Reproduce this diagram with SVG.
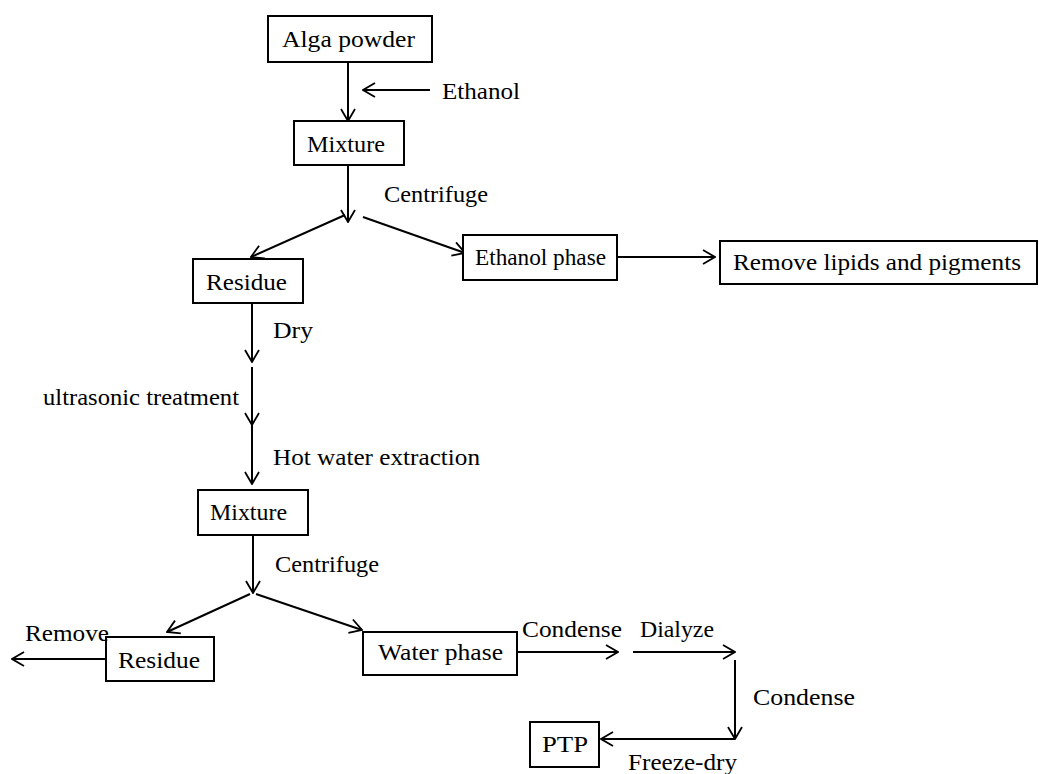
<svg xmlns="http://www.w3.org/2000/svg" width="1039" height="774" viewBox="0 0 1039 774">
<defs>
<style>
.box{fill:#fff;stroke:#000;stroke-width:2}
.t{font-family:"Liberation Serif","Times New Roman",serif;font-size:23px;fill:#000}
.c line{stroke:#000;stroke-width:2;fill:none}
.ah{fill:none;stroke:#000;stroke-width:1.8}
</style>
<marker id="a" viewBox="0 0 14 16" refX="13" refY="8" markerWidth="14" markerHeight="16" markerUnits="userSpaceOnUse" orient="auto">
<path class="ah" d="M1,1 L13,8 L1,15"/>
</marker>
</defs>
<rect width="1039" height="774" fill="#fff"/>
<g id="connectors" class="c">
<line x1="348" y1="62" x2="348" y2="121" marker-end="url(#a)"/>
<line x1="430" y1="90" x2="363" y2="90" marker-end="url(#a)"/>
<line x1="348" y1="165" x2="348" y2="222" marker-end="url(#a)"/>
<line x1="345" y1="215" x2="251" y2="257" marker-end="url(#a)"/>
<line x1="363" y1="217" x2="465" y2="253" marker-end="url(#a)"/>
<line x1="617" y1="257" x2="715" y2="257" marker-end="url(#a)"/>
<line x1="252" y1="303" x2="252" y2="362" marker-end="url(#a)"/>
<line x1="252" y1="367" x2="252" y2="425" marker-end="url(#a)"/>
<line x1="252" y1="425" x2="252" y2="484" marker-end="url(#a)"/>
<line x1="253" y1="535" x2="253" y2="593" marker-end="url(#a)"/>
<line x1="250" y1="594" x2="167" y2="632" marker-end="url(#a)"/>
<line x1="256" y1="594" x2="362" y2="630" marker-end="url(#a)"/>
<line x1="106" y1="659" x2="12" y2="659" marker-end="url(#a)"/>
<line x1="517" y1="652" x2="618" y2="652" marker-end="url(#a)"/>
<line x1="633" y1="652" x2="735" y2="652" marker-end="url(#a)"/>
<line x1="735" y1="660" x2="735" y2="739" marker-end="url(#a)"/>
<line x1="735" y1="739" x2="601" y2="739" marker-end="url(#a)"/>
</g>
<g id="alga"><rect class="box" x="268" y="16" width="164" height="46"/><text class="t" x="282" y="47" textLength="133" lengthAdjust="spacingAndGlyphs">Alga powder</text></g>
<g id="mixture1"><rect class="box" x="294" y="121" width="110" height="44"/><text class="t" x="307" y="152" textLength="78" lengthAdjust="spacingAndGlyphs">Mixture</text></g>
<g id="residue1"><rect class="box" x="193" y="259" width="110" height="44"/><text class="t" x="206" y="290" textLength="81" lengthAdjust="spacingAndGlyphs">Residue</text></g>
<g id="ethanolphase"><rect class="box" x="463" y="235" width="154" height="45"/><text class="t" x="475" y="265" textLength="131" lengthAdjust="spacingAndGlyphs">Ethanol phase</text></g>
<g id="removelipids"><rect class="box" x="720" y="241" width="317" height="43"/><text class="t" x="733" y="270" textLength="288" lengthAdjust="spacingAndGlyphs">Remove lipids and pigments</text></g>
<g id="mixture2"><rect class="box" x="198" y="490" width="110" height="45"/><text class="t" x="210" y="520" textLength="77" lengthAdjust="spacingAndGlyphs">Mixture</text></g>
<g id="residue2"><rect class="box" x="106" y="637" width="108" height="44"/><text class="t" x="118" y="668" textLength="82" lengthAdjust="spacingAndGlyphs">Residue</text></g>
<g id="waterphase"><rect class="box" x="363" y="632" width="154" height="43"/><text class="t" x="378" y="660" textLength="125" lengthAdjust="spacingAndGlyphs">Water phase</text></g>
<g id="ptp"><rect class="box" x="530" y="722" width="69" height="45"/><text class="t" x="542" y="752" textLength="46" lengthAdjust="spacingAndGlyphs">PTP</text></g>
<g id="labels">
<text class="t" x="442" y="99" textLength="78" lengthAdjust="spacingAndGlyphs">Ethanol</text>
<text class="t" x="384" y="202" textLength="104" lengthAdjust="spacingAndGlyphs">Centrifuge</text>
<text class="t" x="273" y="338" textLength="40" lengthAdjust="spacingAndGlyphs">Dry</text>
<text class="t" x="43" y="405" textLength="196" lengthAdjust="spacingAndGlyphs">ultrasonic treatment</text>
<text class="t" x="273" y="465" textLength="207" lengthAdjust="spacingAndGlyphs">Hot water extraction</text>
<text class="t" x="275" y="572" textLength="104" lengthAdjust="spacingAndGlyphs">Centrifuge</text>
<text class="t" x="25" y="641" textLength="84" lengthAdjust="spacingAndGlyphs">Remove</text>
<text class="t" x="522" y="637" textLength="100" lengthAdjust="spacingAndGlyphs">Condense</text>
<text class="t" x="640" y="637" textLength="74" lengthAdjust="spacingAndGlyphs">Dialyze</text>
<text class="t" x="753" y="705" textLength="102" lengthAdjust="spacingAndGlyphs">Condense</text>
<text class="t" x="628" y="770" textLength="109" lengthAdjust="spacingAndGlyphs">Freeze-dry</text>
</g>
</svg>
